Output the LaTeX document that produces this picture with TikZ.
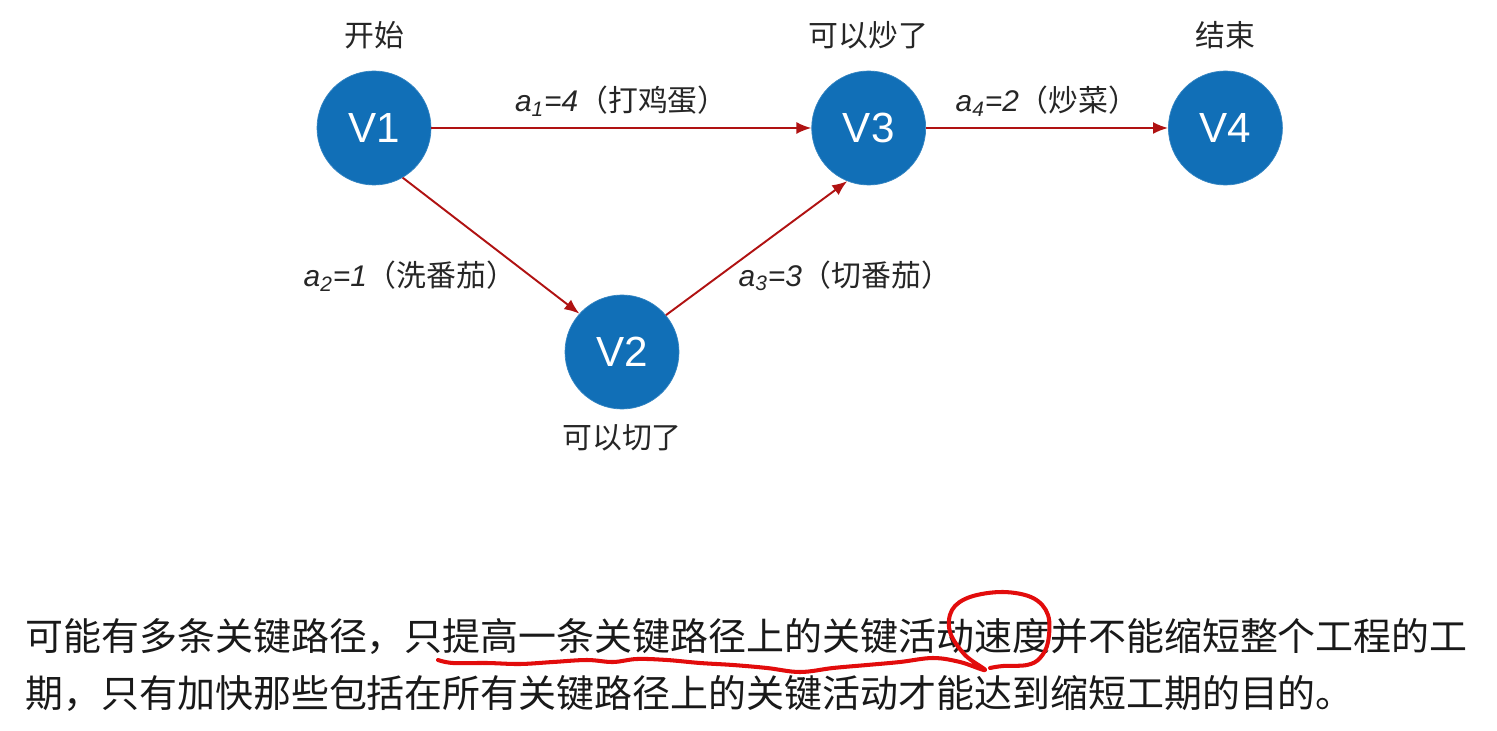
\documentclass[tikz,border=0pt]{standalone}
\usepackage{fontspec}
\setmainfont{Liberation Sans}
\newfontfamily\cjk{Noto Sans CJK SC}
\usepackage{xcolor}
\usetikzlibrary{positioning, arrows.meta}

\definecolor{vblue}{RGB}{17,111,183}
\definecolor{arcred}{RGB}{176,18,18}
\definecolor{penred}{RGB}{226,12,12}

\begin{document}
\begin{tikzpicture}[
  vertex/.style={
    circle, fill=vblue, draw=vblue!85!white, line width=0.4pt,
    minimum size=2.28cm, inner sep=0pt, text=white,
    font=\fontsize{24}{28}\selectfont
  },
  tag/.style={
    font=\cjk\fontsize{17}{20}\selectfont, text=black!85, inner sep=0pt
  },
  wlabel/.style={
    font=\fontsize{17}{20}\selectfont, text=black!85, inner sep=0pt
  },
  arc/.style={
    -{Latex[length=3mm,width=2.4mm]}, line width=1.1pt, draw=arcred
  },
  pen/.style={
    line width=2.3pt, draw=penred, line cap=round, line join=round
  }
]
\useasboundingbox (0,0) rectangle (29.94,14.6);

% Events
\node[vertex] (v1) at (7.48,12.04) {V1};
\node[vertex, right=7.6cm of v1] (v3) {V3};
\node[vertex, right=4.84cm of v3] (v4) {V4};
\node[vertex] (v2) at (12.44,7.56) {V2};

% Event names
\node[tag, above=0.42cm of v1] (t1) {开始};
\node[tag, above=0.42cm of v3] (t3) {可以炒了};
\node[tag, above=0.42cm of v4] (t4) {结束};
\node[tag, below=0.3cm of v2] (t2) {可以切了};

% Activities
\draw[arc] (v1) -- node[wlabel, above=0.22cm] (a1) {\itshape a\textsubscript{1}=4{\upshape\cjk（打鸡蛋）}} (v3);
\draw[arc] (v3) -- node[wlabel, above=0.22cm] (a4) {\itshape a\textsubscript{4}=2{\upshape\cjk（炒菜）}} (v4);
\draw[arc] (v1.-60) -- (v2.138);
\draw[arc] (v2.40) -- (v3.-112);
\node[wlabel] (a2) at (8.20,9.08) {\itshape a\textsubscript{2}=1{\upshape\cjk（洗番茄）}};
\node[wlabel] (a3) at (16.90,9.08) {\itshape a\textsubscript{3}=3{\upshape\cjk（切番茄）}};

% Note
\node[anchor=west, align=left, inner sep=0pt, text=black!90,
      font=\cjk\fontsize{21.6}{31.9}\selectfont] (note) at (0.5,1.30)
  {可能有多条关键路径，只提高一条关键路径上的关键活动速度并不能缩短整个工程的工\\
   期，只有加快那些包括在所有关键路径上的关键活动才能达到缩短工期的目的。};

% Hand marks
\draw[pen] plot[smooth, tension=0.6] coordinates {
  (8.76,1.40) (9.06,1.34) (9.74,1.34) (10.40,1.32) (11.06,1.36) (11.74,1.40)
  (12.26,1.36) (12.74,1.42) (13.34,1.40) (14.00,1.34) (14.66,1.30) (15.34,1.24)
  (16.00,1.16) (16.66,1.24) (17.34,1.30) (18.00,1.36) (18.66,1.44) (19.20,1.36)
  (19.70,1.20) (19.30,1.50) (19.00,1.96) (19.04,2.40) (19.40,2.66) (20.06,2.76)
  (20.66,2.64) (20.96,2.30) (20.96,1.76) (20.80,1.44) (20.54,1.30) (20.06,1.28)
  (19.80,1.24)};

\end{tikzpicture}
\end{document}
